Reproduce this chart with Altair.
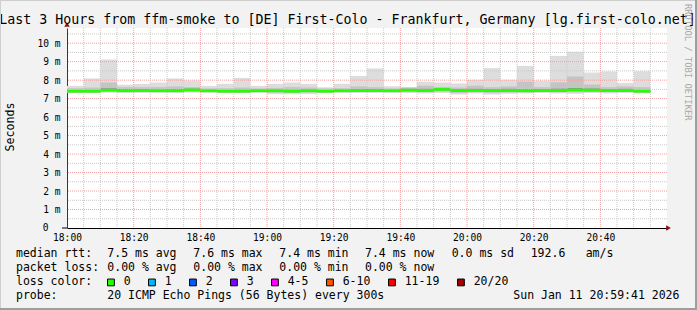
import altair as alt
import pandas as pd

MONO = "DejaVu Sans Mono"

# ---- data (5-minute smoke intervals, ms) ----
times = ["18:00", "18:05", "18:10", "18:15", "18:20", "18:25", "18:30", "18:35", "18:40", "18:45",
         "18:50", "18:55", "19:00", "19:05", "19:10", "19:15", "19:20", "19:25", "19:30", "19:35",
         "19:40", "19:45", "19:50", "19:55", "20:00", "20:05", "20:10", "20:15", "20:20", "20:25",
         "20:30", "20:35", "20:40", "20:45", "20:50"]
max_ms = [7.69, 8.09, 9.11, 7.75, 7.80, 7.87, 8.09, 7.98, 7.69, 7.80,
          8.12, 7.69, 7.80, 7.87, 7.80, 7.62, 7.80, 8.23, 8.63, 7.67,
          7.62, 7.91, 7.87, 7.82, 8.02, 8.65, 8.02, 8.77, 7.97, 9.31,
          9.53, 8.41, 8.47, 7.85, 8.48]
hi2_ms = [7.56, 7.60, 7.87, 7.62, 7.62, 7.62, 7.66, 7.62, 7.55, 7.56,
          7.60, 7.55, 7.58, 7.62, 7.60, 7.55, 7.56, 7.66, 7.62, 7.55,
          7.60, 7.70, 7.62, 7.60, 7.70, 7.62, 7.66, 7.92, 7.62, 7.88,
          8.19, 7.76, 7.62, 7.66, 7.62]
hi3_ms = [7.47, 7.47, 7.56, 7.52, 7.52, 7.50, 7.52, 7.54, 7.48, 7.47,
          7.48, 7.49, 7.49, 7.48, 7.49, 7.47, 7.49, 7.52, 7.52, 7.49,
          7.53, 7.53, 7.57, 7.52, 7.53, 7.52, 7.53, 7.52, 7.52, 7.54,
          7.58, 7.55, 7.52, 7.53, 7.47]
median_ms = [7.40, 7.40, 7.46, 7.42, 7.45, 7.42, 7.42, 7.47, 7.42, 7.40,
             7.40, 7.42, 7.42, 7.40, 7.42, 7.40, 7.42, 7.44, 7.44, 7.42,
             7.46, 7.44, 7.50, 7.45, 7.45, 7.44, 7.44, 7.42, 7.44, 7.44,
             7.47, 7.46, 7.44, 7.44, 7.40]
lo3_ms = [7.34, 7.34, 7.40, 7.36, 7.38, 7.36, 7.36, 7.41, 7.36, 7.34,
          7.34, 7.36, 7.36, 7.34, 7.36, 7.34, 7.36, 7.38, 7.38, 7.36,
          7.40, 7.38, 7.44, 7.38, 7.39, 7.38, 7.38, 7.36, 7.38, 7.38,
          7.41, 7.40, 7.38, 7.38, 7.34]
lo2_ms = [7.35, 7.35, 7.38, 7.36, 7.37, 7.36, 7.36, 7.38, 7.36, 7.35,
          7.35, 7.36, 7.32, 7.32, 7.33, 7.35, 7.36, 7.36, 7.36, 7.36,
          7.37, 7.35, 7.38, 7.30, 7.34, 7.30, 7.33, 7.34, 7.36, 7.34,
          7.34, 7.37, 7.35, 7.36, 7.34]
min_ms = [7.30, 7.30, 7.32, 7.31, 7.30, 7.31, 7.30, 7.32, 7.31, 7.30,
          7.30, 7.31, 7.24, 7.24, 7.24, 7.30, 7.31, 7.30, 7.30, 7.31,
          7.30, 7.28, 7.30, 7.22, 7.28, 7.22, 7.26, 7.28, 7.30, 7.28,
          7.26, 7.30, 7.28, 7.30, 7.28]
loss = ["0"] * len(times)

loss_labels = ["0", "1", "2", "3", "4-5", "6-10", "11-19", "20/20"]
loss_colors = ["#26ff00", "#00b8ff", "#0059ff", "#7e00ff", "#ff00ff", "#ff5500", "#ff0000", "#a10000"]

x_ticks = [0, 20, 40, 60, 80, 100, 120, 140, 160]
y_ticks = [0, 1, 2, 3, 4, 5, 6, 7, 8, 9, 10]

title_text = "Last 3 Hours from ffm-smoke to [DE] First-Colo - Frankfurt, Germany [lg.first-colo.net]"
stat_lines = [
    ["median rtt:", "7.5 ms avg", "7.6 ms max", "7.4 ms min", "7.4 ms now", "0.0 ms sd", "192.6", "am/s"],
    ["packet loss:", "0.00 % avg", "0.00 % max", "0.00 % min", "0.00 % now"],
    ["loss color:"],
    ["probe:", "20 ICMP Echo Pings (56 Bytes) every 300s", "Sun Jan 11 20:59:41 2026"],
]
# layout of the text pieces (pixels in image, not data)
stat_x = [
    [16, 107.3, 193.3, 279.3, 365, 451.7, 530.7, 585.7],
    [16, 107.3, 193.3, 279.3, 365],
    [16],
    [16, 107.3, 513.3],
]
stat_y = [254.3, 268.3, 282.3, 296.0]

L, T = 67, 28  # plot origin in the picture


def to_min(t):
    h, m = t.split(":")
    return (int(h) - 18) * 60 + int(m)


df = pd.DataFrame({
    "start": [to_min(t) for t in times],
    "max_ms": max_ms, "hi2": hi2_ms, "hi3": hi3_ms, "median": median_ms,
    "lo3": lo3_ms, "lo2": lo2_ms, "min_ms": min_ms, "loss": loss,
})
df["end"] = df["start"] + 5
df["mid"] = df["start"] + 2.5

xs = alt.Scale(domain=[0, 180], nice=False, zero=False)
ys = alt.Scale(domain=[0, 10.82], nice=False, zero=True)

x_axis = alt.Axis(values=x_ticks, title=None, grid=False, ticks=False,
                  labelExpr="(18 + floor(datum.value / 60)) + ':' + (datum.value % 60 == 0 ? '00' : '' + (datum.value % 60))",
                  labelFont=MONO, labelFontSize=9.6, labelColor="black", labelPadding=4,
                  domainColor="black", domainWidth=1, labelFlush=False, labelOverlap=False)
y_axis = alt.Axis(values=y_ticks, grid=False, ticks=False, tickCount=11,
                  labelExpr="datum.value == 0 ? '' : datum.value + ' m'",
                  labelFont=MONO, labelFontSize=9.6, labelColor="black", labelPadding=7,
                  domainColor="#5c2a2a", domainWidth=1, labelFlush=False, labelOverlap=False,
                  title="Seconds", titleFont=MONO, titleFontSize=11.6, titleFontWeight="normal",
                  titleColor="black", titleX=-56.5, titleY=98.5, titleAngle=-90,
                  titleAlign="center", titleBaseline="middle")


def X(field):
    return alt.X(field, scale=xs, axis=x_axis)


def Y(field):
    return alt.Y(field, scale=ys, axis=y_axis)


base = alt.Chart(df)

smoke1 = base.mark_rect(color="#dddddd").encode(
    x=X("start:Q"), x2="end:Q", y=Y("min_ms:Q"), y2="max_ms:Q")
smoke2 = base.mark_rect(color="#c4c4c4").encode(
    x=X("start:Q"), x2="end:Q", y=Y("lo2:Q"), y2="hi2:Q")
smoke3 = base.mark_rect(color="#8e8e8e").encode(
    x=X("start:Q"), x2="end:Q", y=Y("lo3:Q"), y2="hi3:Q")

vminor = [m for m in range(5, 180, 5) if m % 20 != 0]
vmajor = [m for m in range(20, 180, 20)]
hminor = [h + 0.5 for h in range(0, 11)]
hmajor = list(range(1, 11))


def vgrid(vals, color):
    return alt.Chart(pd.DataFrame({"start": vals})).mark_rule(
        color=color, strokeDash=[1, 1], strokeWidth=1).encode(x=X("start:Q"))


def hgrid(vals, color):
    return alt.Chart(pd.DataFrame({"min_ms": vals})).mark_rule(
        color=color, strokeDash=[1, 1], strokeWidth=1).encode(y=Y("min_ms:Q"))


grids = [vgrid(vminor, "#c8c8c8"), hgrid(hminor, "#c8c8c8"),
         vgrid(vmajor, "#f2a0a0"), hgrid(hmajor, "#f2a0a0")]

median = base.mark_tick(orient="horizontal", size=16.67, thickness=2.6, opacity=1).encode(
    x=X("mid:Q"), y=Y("median:Q"),
    color=alt.Color("loss:N", scale=alt.Scale(domain=loss_labels, range=loss_colors),
                    legend=alt.Legend(orient="none", legendX=108.7 - L - 3.5, legendY=282.3 - T - 6,
                                      direction="horizontal", title=None, symbolType="square",
                                      symbolSize=46, symbolStrokeColor="black", symbolStrokeWidth=1,
                                      symbolOpacity=1, labelFont=MONO, labelFontSize=11.5,
                                      labelColor="black", labelOffset=7, columnPadding=15,
                                      padding=0, labelLimit=0)))

# the "0" tick label sits left-aligned under the single digits, as in rrdtool
zero_label = alt.Chart(pd.DataFrame({"min_ms": [0], "t": ["0"]})).mark_text(
    align="left", baseline="middle", font=MONO, fontSize=9.6, color="black").encode(
    y=Y("min_ms:Q"), x=alt.value(42.7 - L), text="t:N")

one = pd.DataFrame({"a": [0]})
arrow_r = alt.Chart(one).mark_point(shape="triangle-right", filled=True, size=30, opacity=1,
                                    color="#8b1010", xOffset=1.5).encode(
    x=alt.XDatum(180, scale=xs, axis=x_axis), y=alt.YDatum(0, scale=ys, axis=y_axis))
arrow_u = alt.Chart(one).mark_point(shape="triangle-up", filled=True, size=30, opacity=1,
                                    color="#8b1010", yOffset=-3.5).encode(
    x=alt.XDatum(0, scale=xs, axis=x_axis), y=alt.YDatum(10.82, scale=ys, axis=y_axis))
axis_ext = alt.Chart(one).mark_rule(color="black").encode(
    y=alt.YDatum(0, scale=ys, axis=y_axis), x=alt.value(-5), x2=alt.value(0))

texts = []
for row, (pieces, xs_row) in enumerate(zip(stat_lines, stat_x)):
    for s, px in zip(pieces, xs_row):
        texts.append(alt.Chart(pd.DataFrame({"t": [s]})).mark_text(
            align="left", baseline="middle", font=MONO, fontSize=11.5, color="black").encode(
            x=alt.value(px - L), y=alt.value(stat_y[row] - T), text="t:N"))

title = alt.Chart(pd.DataFrame({"t": [title_text]})).mark_text(
    align="center", baseline="alphabetic", font=MONO, fontSize=13.3, color="black").encode(
    x=alt.value(347.5 - L), y=alt.value(24.3 - T), text="t:N")

credit = alt.Chart(pd.DataFrame({"t": ["RRDTOOL / TOBI OETIKER"]})).mark_text(
    align="left", baseline="middle", angle=90, font=MONO, fontSize=8.8, color="#a8a8a8").encode(
    x=alt.value(688 - L), y=alt.value(4 - T), text="t:N")

frame = [
    alt.Chart(one).mark_rule(color="#cfcfcf", strokeWidth=1).encode(
        x=alt.value(-L), x2=alt.value(697 - L), y=alt.value(-T + 0.5)),
    alt.Chart(one).mark_rule(color="#cfcfcf", strokeWidth=1).encode(
        x=alt.value(-L + 0.5), y=alt.value(-T), y2=alt.value(310 - T)),
    alt.Chart(one).mark_rule(color="#9e9e9e", strokeWidth=2).encode(
        x=alt.value(-L), x2=alt.value(697 - L), y=alt.value(310 - T - 1)),
    alt.Chart(one).mark_rule(color="#9e9e9e", strokeWidth=2).encode(
        x=alt.value(697 - L - 1), y=alt.value(-T), y2=alt.value(310 - T)),
]

chart = alt.layer(smoke1, smoke2, smoke3, *grids, median, zero_label, axis_ext, arrow_r, arrow_u,
                  title, *texts, credit, *frame).properties(
    width=600, height=200,
    autosize=alt.AutoSizeParams(type="none"),
    padding={"left": L, "top": T, "right": 697 - L - 600, "bottom": 310 - T - 200},
    background="#f2f2f2",
).configure_view(strokeWidth=0, fill="white")

chart.save("out.html", embed_options={"renderer": "svg", "actions": False})
